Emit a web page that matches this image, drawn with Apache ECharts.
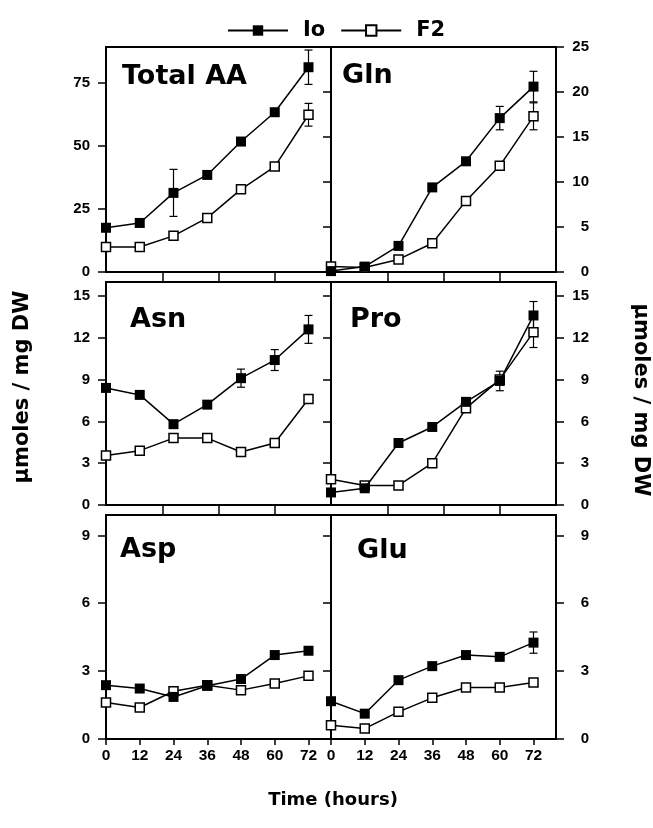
<!DOCTYPE html>
<html><head><meta charset="utf-8">
<script src="https://cdn.jsdelivr.net/npm/echarts@6/dist/echarts.min.js"></script>
<style>html,body{margin:0;padding:0;background:#fff}#c{width:653px;height:828px}</style>
</head><body><div id="c"></div>
<script>
// ---------- data ----------
const hours = [0, 12, 24, 36, 48, 60, 72];
const xTickLabels = [0, 12, 24, 36, 48, 60, 72];
const innerXTicks = [20, 40, 60];

const totalAA_Io = [17.5, 19.4, 31.3, 38.4, 51.6, 63.2, 81.0];
const totalAA_F2 = [9.9, 9.9, 14.3, 21.4, 32.7, 41.7, 62.2];
const totalAA_IoErr = [null, null, 9.3, null, null, null, 6.8];
const totalAA_F2Err = [null, null, null, null, null, null, 4.5];
const totalAA_ticks = [0, 25, 50, 75];

const gln_Io = [0.1, 0.6, 2.9, 9.4, 12.3, 17.1, 20.6];
const gln_F2 = [0.6, 0.5, 1.4, 3.2, 7.9, 11.8, 17.3];
const gln_IoErr = [null, null, null, null, null, 1.3, 1.7];
const gln_F2Err = [null, null, null, null, null, null, 1.5];
const gln_ticks = [0, 5, 10, 15, 20, 25];

const asn_Io = [8.4, 7.9, 5.8, 7.2, 9.1, 10.4, 12.6];
const asn_F2 = [3.55, 3.9, 4.8, 4.8, 3.8, 4.45, 7.6];
const asn_IoErr = [null, null, null, null, 0.65, 0.75, 1.0];
const asn_F2Err = [null, null, null, null, null, null, null];

const pro_Io = [0.9, 1.2, 4.45, 5.6, 7.4, 8.9, 13.6];
const pro_F2 = [1.85, 1.4, 1.4, 3.0, 6.95, 9.0, 12.4];
const pro_IoErr = [null, null, null, null, null, 0.7, 1.0];
const pro_F2Err = [null, null, null, null, null, null, 1.1];
const mid_ticks = [0, 3, 6, 9, 12, 15];

const asp_Io = [2.38, 2.23, 1.86, 2.35, 2.65, 3.71, 3.9];
const asp_F2 = [1.61, 1.39, 2.11, 2.38, 2.16, 2.45, 2.79];
const asp_IoErr = [null, null, null, null, null, null, null];
const asp_F2Err = [null, null, null, null, null, null, null];

const glu_Io = [1.67, 1.12, 2.6, 3.22, 3.71, 3.63, 4.26];
const glu_F2 = [0.61, 0.46, 1.2, 1.82, 2.28, 2.28, 2.5];
const glu_IoErr = [null, null, null, null, null, null, 0.47];
const glu_F2Err = [null, null, null, null, null, null, null];
const low_ticks = [0, 3, 6, 9];

const panelNames = ['Total AA', 'Gln', 'Asn', 'Pro', 'Asp', 'Glu'];
const panelIo = [totalAA_Io, gln_Io, asn_Io, pro_Io, asp_Io, glu_Io];
const panelF2 = [totalAA_F2, gln_F2, asn_F2, pro_F2, asp_F2, glu_F2];
const panelIoErr = [totalAA_IoErr, gln_IoErr, asn_IoErr, pro_IoErr, asp_IoErr, glu_IoErr];
const panelF2Err = [totalAA_F2Err, gln_F2Err, asn_F2Err, pro_F2Err, asp_F2Err, glu_F2Err];
const panelMax = [89, 25, 16, 16, 9.9, 9.9];
const panelTicks = [totalAA_ticks, gln_ticks, mid_ticks, mid_ticks, low_ticks, low_ticks];

// ---------- layout ----------
const colLeft = [106, 331];
const gridW = 225;
const rowTop = [47, 282, 515];
const rowH = [225, 223, 224];
const labelPos = [[122, 63], [342, 62], [130, 306], [350, 306], [120, 536], [357, 537]];

const bold = {fontFamily: 'Liberation Sans', fontWeight: 'bold', color: '#000'};
const grids = [], xAxes = [], yAxes = [], series = [], titles = [];

function errRender(params, api) {
  const x = api.value(0), lo = api.value(1), hi = api.value(2);
  const a = api.coord([x, hi]), b = api.coord([x, lo]);
  const w = 4;
  const st = {stroke: '#000', lineWidth: 1.2};
  return {type: 'group', children: [
    {type: 'line', shape: {x1: a[0], y1: a[1], x2: b[0], y2: b[1]}, style: st},
    {type: 'line', shape: {x1: a[0] - w, y1: a[1], x2: a[0] + w, y2: a[1]}, style: st},
    {type: 'line', shape: {x1: b[0] - w, y1: b[1], x2: b[0] + w, y2: b[1]}, style: st}
  ]};
}
function errData(vals, errs) {
  const out = [];
  hours.forEach((h, k) => { if (errs[k] != null) out.push([h, vals[k] - errs[k], vals[k] + errs[k]]); });
  return out;
}

panelNames.forEach((name, i) => {
  const col = i % 2, row = Math.floor(i / 2);
  const isBottom = row === 2;
  grids.push({left: colLeft[col], top: rowTop[row], width: gridW, height: rowH[row],
    show: true, borderColor: '#000', borderWidth: 2, backgroundColor: 'transparent'});
  xAxes.push({gridIndex: i, type: 'value', min: 0, max: 80, position: 'bottom',
    axisLine: {show: true, onZero: false, lineStyle: {color: '#000', width: 2}},
    axisTick: {show: true, inside: false, length: isBottom ? 6 : 10,
      customValues: isBottom ? xTickLabels : innerXTicks, lineStyle: {color: '#000', width: 1.5}},
    axisLabel: {show: isBottom, customValues: xTickLabels, margin: 9, fontSize: 15.5, ...bold},
    splitLine: {show: false}});
  const yIdx = yAxes.length;
  yAxes.push({gridIndex: i, type: 'value', min: 0, max: panelMax[i], position: col === 0 ? 'left' : 'right',
    axisLine: {show: true, onZero: false, lineStyle: {color: '#000', width: 2}},
    axisTick: {show: true, inside: false, length: 8, customValues: panelTicks[i], lineStyle: {color: '#000', width: 1.5}},
    axisLabel: {show: true, customValues: panelTicks[i], margin: col === 0 ? 16 : 33, align: 'right', fontSize: 15, ...bold},
    splitLine: {show: false}});
  if (col === 1) {
    yAxes.push({gridIndex: i, type: 'value', min: 0, max: panelMax[i], position: 'left',
      axisLine: {show: true, onZero: false, lineStyle: {color: '#000', width: 2}},
      axisTick: {show: true, inside: false, length: 8, customValues: panelTicks[i], lineStyle: {color: '#000', width: 1.5}},
      axisLabel: {show: false}, splitLine: {show: false}});
  }
  titles.push({text: name, left: labelPos[i][0], top: labelPos[i][1],
    textStyle: {fontFamily: 'DejaVu Sans', fontWeight: 'bold', fontSize: 27, color: '#000'}, padding: 0});

  series.push({type: 'custom', name: 'errF2' + i, xAxisIndex: i, yAxisIndex: yIdx, z: 1,
    renderItem: errRender, data: errData(panelF2[i], panelF2Err[i]), silent: true});
  series.push({type: 'custom', name: 'errIo' + i, xAxisIndex: i, yAxisIndex: yIdx, z: 1,
    renderItem: errRender, data: errData(panelIo[i], panelIoErr[i]), silent: true});
  series.push({type: 'line', name: 'F2', xAxisIndex: i, yAxisIndex: yIdx, z: 3,
    data: hours.map((h, k) => [h, panelF2[i][k]]),
    symbol: 'rect', symbolSize: 9, showAllSymbol: true,
    itemStyle: {color: '#fff', borderColor: '#000', borderWidth: 1.5},
    lineStyle: {color: '#000', width: 1.5}});
  series.push({type: 'line', name: 'Io', xAxisIndex: i, yAxisIndex: yIdx, z: 4,
    data: hours.map((h, k) => [h, panelIo[i][k]]),
    symbol: 'rect', symbolSize: 10, showAllSymbol: true,
    itemStyle: {color: '#000', borderColor: '#000', borderWidth: 0},
    lineStyle: {color: '#000', width: 1.5}});
});

const chart = echarts.init(document.getElementById('c'), null, {renderer: 'canvas'});
chart.setOption({
  animation: false,
  backgroundColor: '#fff',
  title: titles,
  legend: {data: ['Io', 'F2'], left: 222, top: 15, itemWidth: 60, itemHeight: 13, itemGap: 15,
    textStyle: {fontFamily: 'DejaVu Sans', fontWeight: 'bold', fontSize: 21, color: '#000', padding: [0, 0, 0, 10]}},
  grid: grids, xAxis: xAxes, yAxis: yAxes, series: series,
  graphic: [
    {type: 'text', x: 333, y: 800, style: {text: 'Time (hours)', fontFamily: 'DejaVu Sans', fontWeight: 'bold', fontSize: 18, fill: '#000', align: 'center', verticalAlign: 'middle'}},
    {type: 'text', x: 23, y: 387, rotation: Math.PI / 2, style: {text: 'μmoles / mg DW', fontFamily: 'DejaVu Sans', fontWeight: 'bold', fontSize: 21, fill: '#000', align: 'center', verticalAlign: 'middle'}},
    {type: 'text', x: 640, y: 400, rotation: -Math.PI / 2, style: {text: 'μmoles / mg DW', fontFamily: 'DejaVu Sans', fontWeight: 'bold', fontSize: 21, fill: '#000', align: 'center', verticalAlign: 'middle'}}
  ]
});
</script></body></html>
